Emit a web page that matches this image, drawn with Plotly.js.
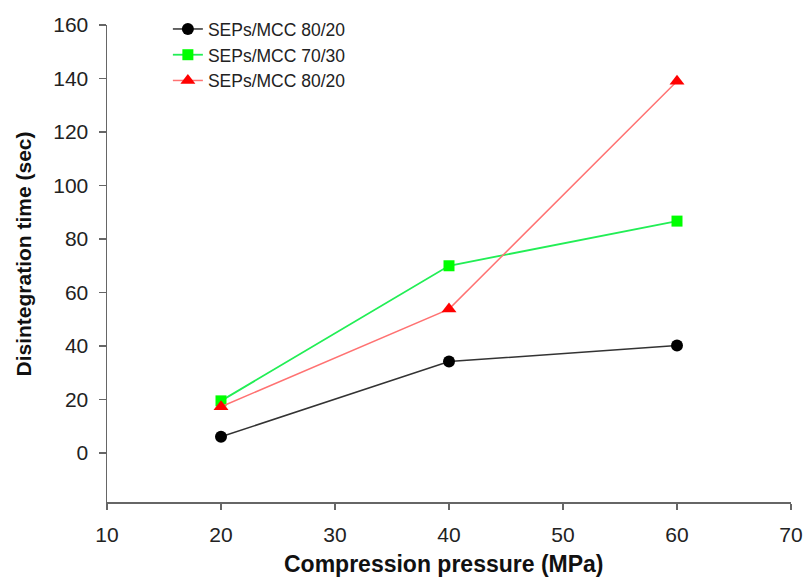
<!DOCTYPE html>
<html>
<head>
<meta charset="utf-8">
<script src="https://cdn.plot.ly/plotly-3.0.1.min.js"></script>
<style>
  html, body { margin: 0; padding: 0; background: #fff; }
  #chart { width: 805px; height: 584px; }
</style>
</head>
<body>
<div id="chart"></div>
<script>
// Compression pressure (MPa) for each tablet batch
const pressure = [20, 40, 60];

// Disintegration time (sec) per formulation
const sepsMcc8020a = [6.1, 34.2, 40.2];
const sepsMcc7030 = [19.5, 70.0, 86.7];
const sepsMcc8020b = [17.3, 53.8, 139.0];

const seriesNames = ['SEPs/MCC 80/20', 'SEPs/MCC 70/30', 'SEPs/MCC 80/20'];

const xTicks = [10, 20, 30, 40, 50, 60, 70];
const yTicks = [0, 20, 40, 60, 80, 100, 120, 140, 160];

const fontFamily = 'Arial, "Liberation Sans", Helvetica, sans-serif';
const textColor = '#222222';
const axisColor = '#666666';

const traces = [
  {
    x: pressure, y: sepsMcc8020a, name: seriesNames[0],
    mode: 'lines+markers', type: 'scatter',
    line: { color: '#333333', width: 1.5 },
    marker: { symbol: 'circle', size: 12, color: '#000000' }
  },
  {
    x: pressure, y: sepsMcc7030, name: seriesNames[1],
    mode: 'lines+markers', type: 'scatter',
    line: { color: '#22ee55', width: 1.8 },
    marker: { symbol: 'square', size: 11, color: '#00ff00' }
  },
  {
    x: pressure, y: sepsMcc8020b, name: seriesNames[2],
    mode: 'lines+markers', type: 'scatter',
    line: { color: '#ff7272', width: 1.5 },
    marker: { symbol: 'triangle-up', size: 13, color: '#ff0000' }
  }
];

const layout = {
  width: 805,
  height: 584,
  margin: { l: 107, r: 14, t: 24, b: 82 },
  paper_bgcolor: '#ffffff',
  plot_bgcolor: '#ffffff',
  font: { family: fontFamily, color: textColor, size: 18 },
  showlegend: true,
  legend: {
    x: 0.089, y: 1.027, xanchor: 'left', yanchor: 'top',
    bgcolor: 'rgba(0,0,0,0)', borderwidth: 0,
    font: { family: fontFamily, size: 17.5, color: textColor },
    tracegroupgap: 0
  },
  xaxis: {
    range: [10, 70],
    tickvals: xTicks,
    ticktext: xTicks.map(String),
    showgrid: false, zeroline: false,
    showline: true, linecolor: axisColor, linewidth: 1.5,
    ticks: 'outside', ticklen: 6, tickwidth: 1.5, tickcolor: axisColor,
    ticklabelstandoff: 7,
    tickfont: { family: fontFamily, size: 21, color: textColor },
    fixedrange: true
  },
  yaxis: {
    range: [-18.3, 160],
    tickvals: yTicks,
    ticktext: yTicks.map(String),
    showgrid: false, zeroline: false,
    showline: true, linecolor: axisColor, linewidth: 1.5,
    ticks: 'outside', ticklen: 7, tickwidth: 1.5, tickcolor: axisColor,
    ticklabelstandoff: 6,
    tickfont: { family: fontFamily, size: 21, color: textColor },
    fixedrange: true
  },
  annotations: [
    {
      text: '<b>Compression pressure (MPa)</b>',
      xref: 'paper', yref: 'paper',
      x: 0.493, y: -0.131, xanchor: 'center', yanchor: 'middle',
      showarrow: false,
      font: { family: fontFamily, size: 23, color: '#111111' }
    },
    {
      text: '<b>Disintegration time (sec)</b>',
      xref: 'paper', yref: 'paper',
      x: -0.122, y: 0.52, xanchor: 'center', yanchor: 'middle',
      textangle: -90,
      showarrow: false,
      font: { family: fontFamily, size: 21, color: '#111111' }
    }
  ]
};

Plotly.newPlot('chart', traces, layout, { displayModeBar: false, staticPlot: true });
</script>
</body>
</html>
